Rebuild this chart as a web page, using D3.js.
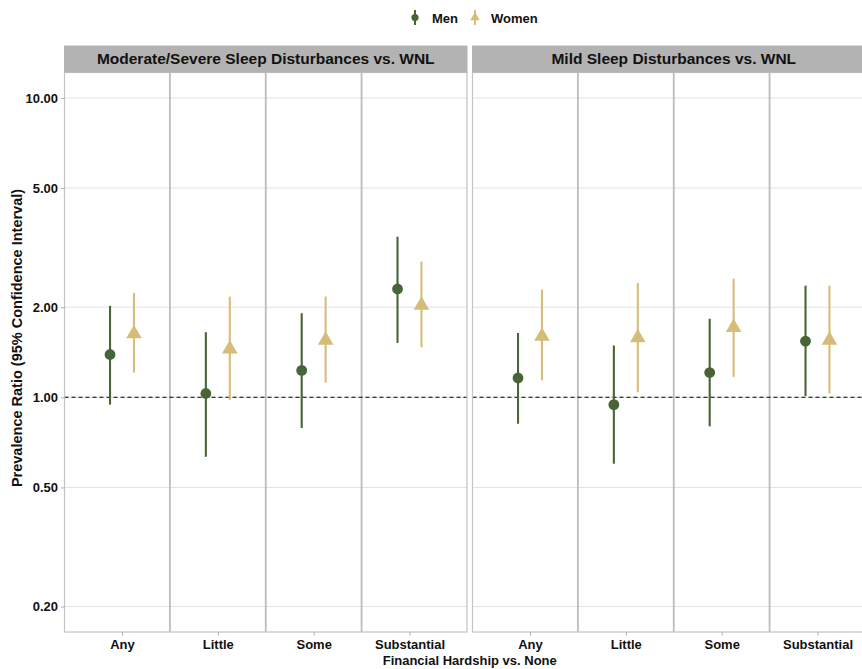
<!DOCTYPE html>
<html>
<head>
<meta charset="utf-8">
<script src="https://cdn.jsdelivr.net/npm/d3@7"></script>
<style>
  html, body { margin: 0; padding: 0; background: #fff; }
  svg { display: block; font-family: "Liberation Sans", Arial, Helvetica, sans-serif; }
</style>
</head>
<body>
<svg id="chart" width="862" height="669"></svg>
<script>
// ---------- data ----------
const categories = ["Any", "Little", "Some", "Substantial"];
const panels = ["Moderate/Severe Sleep Disturbances vs. WNL", "Mild Sleep Disturbances vs. WNL"];
const seriesNames = ["Men", "Women"];
const yTicks = [0.2, 0.5, 1, 2, 5, 10];

// Moderate/Severe panel
const modMenEst = [1.39, 1.03, 1.23, 2.30];
const modMenLo  = [0.945, 0.633, 0.79, 1.52];
const modMenHi  = [2.02, 1.65, 1.91, 3.44];
const modWomenEst = [1.63, 1.45, 1.55, 2.03];
const modWomenLo  = [1.21, 0.98, 1.12, 1.47];
const modWomenHi  = [2.23, 2.17, 2.17, 2.84];
// Mild panel
const mildMenEst = [1.16, 0.945, 1.21, 1.54];
const mildMenLo  = [0.816, 0.60, 0.80, 1.01];
const mildMenHi  = [1.64, 1.49, 1.83, 2.36];
const mildWomenEst = [1.60, 1.58, 1.71, 1.55];
const mildWomenLo  = [1.14, 1.04, 1.17, 1.03];
const mildWomenHi  = [2.29, 2.41, 2.49, 2.36];

const panelData = [
  { men: [modMenEst, modMenLo, modMenHi], women: [modWomenEst, modWomenLo, modWomenHi] },
  { men: [mildMenEst, mildMenLo, mildMenHi], women: [mildWomenEst, mildWomenLo, mildWomenHi] }
];

// ---------- layout ----------
const colMen = "#476537";
const colWomen = "#d5bd79";
const svg = d3.select("#chart");
const panelTop = 72.5, panelBottom = 632;
const stripTop = 45.5;
const panelX = [[64.5, 467], [472.5, 875]];

const lo = Math.log10(0.2), hi = Math.log10(10), pad = 0.05 * (hi - lo);
const y = d3.scaleLog().domain([Math.pow(10, lo - pad), Math.pow(10, hi + pad)]).range([panelBottom, panelTop]);

const dodge = 0.125;

panels.forEach((title, pi) => {
  const [x0, x1] = panelX[pi];
  const x = d3.scaleLinear().domain([0.4, categories.length + 0.6]).range([x0, x1]);
  const g = svg.append("g");

  // gridlines
  g.selectAll("line.grid").data(yTicks).join("line")
    .attr("x1", x0).attr("x2", x1)
    .attr("y1", d => y(d)).attr("y2", d => y(d))
    .attr("stroke", "#dedede").attr("stroke-width", 0.9);

  // separators between categories
  g.selectAll("line.sep").data(d3.range(1.5, categories.length, 1)).join("line")
    .attr("x1", d => x(d)).attr("x2", d => x(d))
    .attr("y1", panelTop).attr("y2", panelBottom)
    .attr("stroke", "#bdbdbd").attr("stroke-width", 1.8);

  // reference line at 1
  g.append("line")
    .attr("x1", x0).attr("x2", x1).attr("y1", y(1)).attr("y2", y(1))
    .attr("stroke", "#000").attr("stroke-width", 1.1).attr("stroke-dasharray", "4,3");

  // panel border
  g.append("rect").attr("x", x0).attr("y", panelTop).attr("width", x1 - x0).attr("height", panelBottom - panelTop)
    .attr("fill", "none").attr("stroke", "#c4c4c4").attr("stroke-width", 1.2);

  // strip
  g.append("rect").attr("x", x0 - 0.5).attr("y", stripTop).attr("width", x1 - x0 + 1).attr("height", panelTop - stripTop)
    .attr("fill", "#b3b3b3");
  g.append("text").attr("x", (x0 + x1) / 2).attr("y", (stripTop + panelTop) / 2 + 5.3)
    .attr("text-anchor", "middle").attr("font-size", "15.5px").attr("font-weight", "bold").attr("fill", "#111")
    .text(title);

  // error bars + points
  const pd = panelData[pi];
  [["men", -dodge, colMen], ["women", dodge, colWomen]].forEach(([key, off, col]) => {
    const [est, l, h] = pd[key];
    const rows = categories.map((c, i) => ({ i: i + 1, est: est[i], lo: l[i], hi: h[i] }));
    g.selectAll("line.err-" + key).data(rows).join("line")
      .attr("x1", d => x(d.i + off)).attr("x2", d => x(d.i + off))
      .attr("y1", d => y(d.lo)).attr("y2", d => y(d.hi))
      .attr("stroke", col).attr("stroke-width", 2.1);
    if (key === "men") {
      g.selectAll("circle.pt").data(rows).join("circle")
        .attr("cx", d => x(d.i + off)).attr("cy", d => y(d.est)).attr("r", 5.4)
        .attr("fill", col);
    } else {
      g.selectAll("path.tri").data(rows).join("path")
        .attr("d", d3.symbol(d3.symbolTriangle, 105))
        .attr("transform", d => `translate(${x(d.i + off)},${y(d.est)})`)
        .attr("fill", col);
    }
  });

  // x axis
  const xa = g.append("g").attr("transform", `translate(0,${panelBottom})`)
    .call(d3.axisBottom(x).tickValues(d3.range(1, categories.length + 1)).tickFormat(d => categories[d - 1]).tickSize(3.5).tickPadding(4));
  xa.select(".domain").remove();
  xa.selectAll(".tick line").attr("stroke", "#b0b0b0");
  xa.selectAll(".tick text").attr("font-size", "13px").attr("font-weight", "bold").attr("fill", "#111")
    .attr("font-family", "'Liberation Sans', Arial, sans-serif");

  if (pi === 0) {
    const ya = g.append("g").attr("transform", `translate(${x0},0)`)
      .call(d3.axisLeft(y).tickValues(yTicks).tickFormat(d3.format(".2f")).tickSize(3.5).tickPadding(3));
    ya.select(".domain").remove();
    ya.selectAll(".tick line").attr("stroke", "#b0b0b0");
    ya.selectAll(".tick text").attr("font-size", "13px").attr("font-weight", "bold").attr("fill", "#111")
      .attr("font-family", "'Liberation Sans', Arial, sans-serif");
  }
});

// axis titles
svg.append("text").attr("x", (panelX[0][0] + panelX[1][1]) / 2).attr("y", 665)
  .attr("text-anchor", "middle").attr("font-size", "13px").attr("font-weight", "bold").attr("fill", "#111")
  .text("Financial Hardship vs. None");
svg.append("text").attr("transform", `translate(21.5,338) rotate(-90)`)
  .attr("text-anchor", "middle").attr("font-size", "14.5px").attr("font-weight", "bold").attr("fill", "#111")
  .text("Prevalence Ratio (95% Confidence Interval)");

// legend
const legend = svg.append("g");
const legItems = [
  { name: seriesNames[0], col: colMen, kx: 415, tx: 432 },
  { name: seriesNames[1], col: colWomen, kx: 475, tx: 491 }
];
legItems.forEach((it, i) => {
  legend.append("line").attr("x1", it.kx).attr("x2", it.kx).attr("y1", 10).attr("y2", 25)
    .attr("stroke", it.col).attr("stroke-width", 2);
  if (i === 0) {
    legend.append("circle").attr("cx", it.kx).attr("cy", 17.5).attr("r", 3.6).attr("fill", it.col);
  } else {
    legend.append("path").attr("d", d3.symbol(d3.symbolTriangle, 40))
      .attr("transform", `translate(${it.kx},17.5)`).attr("fill", it.col);
  }
  legend.append("text").attr("x", it.tx).attr("y", 22.5).attr("font-size", "13px").attr("font-weight", "bold")
    .attr("fill", "#111").text(it.name);
});
</script>
</body>
</html>
